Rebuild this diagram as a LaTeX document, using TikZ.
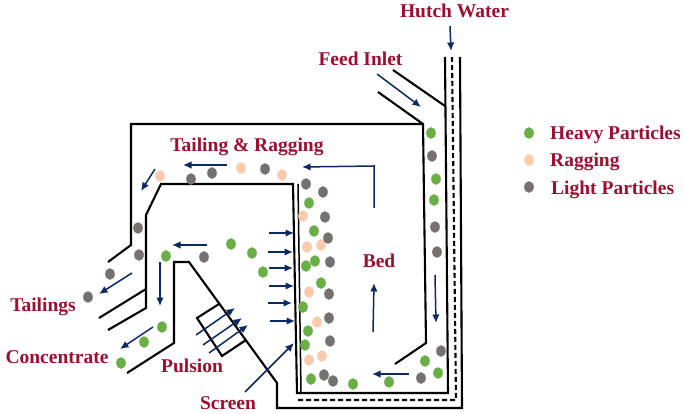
\documentclass[tikz,border=0pt]{standalone}
\usepackage{fontspec}
\setmainfont{Liberation Serif}
\usepackage{xcolor}
\usepackage{tikz}
\usetikzlibrary{arrows.meta}
\definecolor{label-red}{RGB}{158,14,48}
\definecolor{flow-blue}{RGB}{10,40,100}
\definecolor{heavy-green}{RGB}{106,174,70}
\definecolor{rag-peach}{RGB}{248,203,173}
\definecolor{light-grey}{RGB}{118,113,113}
\tikzset{>={Latex[width=7.5pt,length=8.5pt]}}
\tikzset{
    wall/.style={black, line width=2.1pt, line join=miter},
    flow/.style={->, flow-blue, line width=1.5pt},
    tag/.style={text=label-red, font=\fontsize{19.5}{22}\selectfont\bfseries, inner sep=0pt},
    heavy/.style={fill=heavy-green},
    rag/.style={fill=rag-peach},
    lightp/.style={fill=light-grey}
}

\begin{document}
\begin{tikzpicture}[x=1pt,y=-1pt]
    \useasboundingbox (0,0) rectangle (685,414);

    % jig walls
    \draw [wall] (108,262) -- (131,245) -- (131,124) -- (423,124) -- (426,343) -- (395,364);
    \draw [wall] (378,92) -- (423,124);
    \draw [wall] (393,70) -- (445,106);
    \draw [wall] (445,57) -- (448,393) -- (297,393) -- (293,184) -- (161,184) -- (146,215) -- (146,308) -- (108,330);
    \draw [wall, line width=1.5pt] (301,393) -- (298,184);
    \draw [wall] (146,289) -- (99,318);
    \draw [wall] (460,57) -- (462,408) -- (277,408) -- (277,383) -- (189,262) -- (174,262) -- (174,343) -- (127,373);
    \draw [wall, dashed, dash pattern=on 5pt off 3pt] (452,57) -- (456,400) -- (297,400);

    % screen box
    \draw [wall] (219,304) -- (197,318) -- (222,356) -- (246,340);

    % pulsion
    \draw [flow] (196,335) -- (235,308);
    \draw [flow] (203,345) -- (242,318);
    \draw [flow] (209,353) -- (248,325);

    % flow arrows
    \draw [flow] (450,26) -- (451,51);
    \draw [flow] (377,74) -- (421,107);
    \draw [flow] (374,208) -- (374,166) -- (302,167);
    \draw [flow] (227,165) -- (183,165);
    \draw [flow] (155,169) -- (141,191);
    \draw [flow] (132,273) -- (99,294);
    \draw [flow] (207,245) -- (172,245);
    \draw [flow] (160,262) -- (160,306);
    \draw [flow] (153,327) -- (120,349);
    \draw [flow] (269,233) -- (294,233);
    \draw [flow] (268,252) -- (293,252);
    \draw [flow] (269,268) -- (293,268);
    \draw [flow] (269,286) -- (294,286);
    \draw [flow] (268,303) -- (292,303);
    \draw [flow] (270,321) -- (295,321);
    \draw [flow] (245,392) -- (294,343);
    \draw [flow] (373,332) -- (374,283);
    \draw [flow] (435,275) -- (436,323);
    \draw [flow] (409,374) -- (372,374);

    % particles
    \foreach \px/\py in {431/133,436/179,434/200,425/361,438/373,389/382,353/384,311/379,305/345,308/331,303/307,321/283,306/266,315/261,314/231,309/203,166/256,231/244,252/253,263/272,162/327,144/342,121/363,529/133}
        \fill[heavy] (\px,\py) ellipse (4.8 and 5.8);
    \foreach \px/\py in {160/176,241/168,282/175,303/216,307/247,321/245,309/292,317/322,309/360,322/356,529/160}
        \fill[rag] (\px,\py) ellipse (4.8 and 5.8);
    \foreach \px/\py in {432/156,435/227,437/252,441/351,421/378,333/381,324/375,330/341,329/318,329/294,330/262,328/238,325/217,323/192,306/184,265/169,212/173,191/179,138/228,139/255,110/274,88/297,204/257,529/187}
        \fill[lightp] (\px,\py) ellipse (4.8 and 5.8);

    % labels
    \node [tag] (hutch) at (454.5,11) {Hutch Water};
    \node [tag] (feed) at (360.5,59) {Feed Inlet};
    \node [tag] (tailrag) at (247,147) {Tailing \& Ragging};
    \node [tag] (bed) at (379,261) {Bed};
    \node [tag] (tailings) at (43,307) {Tailings};
    \node [tag] (concentrate) at (57,357) {Concentrate};
    \node [tag] (pulsion) at (192,366) {Pulsion};
    \node [tag] (screen) at (228,403) {Screen};
    \node [tag, anchor=west] (heavylabel) at (550,135) {Heavy Particles};
    \node [tag, anchor=west] (raglabel) at (550,162) {Ragging};
    \node [tag, anchor=west] (lightlabel) at (551,190) {Light Particles};
\end{tikzpicture}
\end{document}
